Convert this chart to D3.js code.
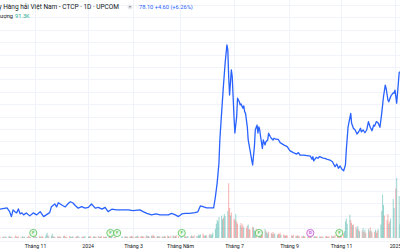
<!DOCTYPE html>
<html>
<head>
<meta charset="utf-8">
<script src="https://cdn.jsdelivr.net/npm/d3@7"></script>
<style>
  body { margin: 0; background: #fff; }
  svg { display: block; font-family: Roboto, "Noto Sans", sans-serif; }
</style>
</head>
<body>
<div id="chart"></div>
<script>
// axis: first trading day of each month shown, with its label
const monthTicks = ["2023-11-01", "2024-01-01", "2024-03-01", "2024-05-01",
  "2024-07-01", "2024-09-01", "2024-11-01", "2025-01-01"];
const monthLabels = ["Tháng 11", "2024", "Tháng 3", "Tháng Năm",
  "Tháng 7", "Tháng 9", "Tháng 11", "2025"];

// closing price (thousand VND)
const priceDates = [
  "2023-09-22","2023-09-30","2023-10-03","2023-10-05","2023-10-07","2023-10-09","2023-10-11","2023-10-13",
  "2023-10-15","2023-10-17","2023-10-19","2023-10-22","2023-10-26","2023-10-30","2023-11-03","2023-11-07",
  "2023-11-11","2023-11-14","2023-11-18","2023-11-20","2023-11-24","2023-11-26","2023-11-28","2023-12-02",
  "2023-12-06","2023-12-10","2023-12-12","2023-12-15","2023-12-17","2023-12-21","2023-12-25","2023-12-29",
  "2024-01-02","2024-01-06","2024-01-11","2024-01-15","2024-01-20","2024-01-24","2024-01-28","2024-02-02",
  "2024-02-08","2024-02-17","2024-02-24","2024-03-01","2024-03-10","2024-03-14","2024-03-19","2024-03-25",
  "2024-03-31","2024-04-05","2024-04-09","2024-04-16","2024-04-20","2024-04-25","2024-04-29","2024-05-03",
  "2024-05-07","2024-05-12","2024-05-18","2024-05-21","2024-05-24","2024-05-27","2024-05-31","2024-06-06",
  "2024-06-08","2024-06-10","2024-06-12","2024-06-14","2024-06-15","2024-06-17","2024-06-19","2024-06-21",
  "2024-06-23","2024-06-24","2024-06-25","2024-06-26","2024-06-28","2024-06-29","2024-06-30","2024-07-01",
  "2024-07-02","2024-07-04","2024-07-05","2024-07-07","2024-07-08","2024-07-09","2024-07-11","2024-07-12",
  "2024-07-13","2024-07-14","2024-07-16","2024-07-17","2024-07-19","2024-07-21","2024-07-22","2024-07-24",
  "2024-07-25","2024-07-27","2024-07-28","2024-07-29","2024-07-30","2024-07-31","2024-08-02","2024-08-03",
  "2024-08-05","2024-08-06","2024-08-08","2024-08-09","2024-08-11","2024-08-12","2024-08-14","2024-08-15",
  "2024-08-17","2024-08-20","2024-08-22","2024-08-26","2024-08-30","2024-09-02","2024-09-06","2024-09-10",
  "2024-09-12","2024-09-14","2024-09-18","2024-09-22","2024-09-26","2024-09-28","2024-09-29","2024-09-30",
  "2024-10-03","2024-10-05","2024-10-07","2024-10-11","2024-10-13","2024-10-16","2024-10-19","2024-10-22",
  "2024-10-25","2024-10-27","2024-10-29","2024-10-31","2024-11-02","2024-11-04","2024-11-06","2024-11-07",
  "2024-11-09","2024-11-12","2024-11-13","2024-11-15","2024-11-17","2024-11-19","2024-11-21","2024-11-23",
  "2024-11-24","2024-11-26","2024-11-28","2024-11-30","2024-12-02","2024-12-04","2024-12-06","2024-12-08",
  "2024-12-09","2024-12-11","2024-12-13","2024-12-15","2024-12-17","2024-12-19","2024-12-21","2024-12-22",
  "2024-12-24","2024-12-25","2024-12-27","2024-12-28","2024-12-30","2024-12-31","2025-01-01","2025-01-03",
  "2025-01-05","2025-01-06","2025-01-07"
];
const priceValues = [
  22.7, 23.2, 21.7, 19.7, 22.4, 21.7, 21.2, 22.8,
  20.8, 21.2, 20.4, 21.2, 20.0, 21.2, 20.4, 21.7,
  19.7, 20.4, 21.3, 23.7, 24.8, 23.6, 25.3, 24.4,
  23.6, 25.2, 25.7, 25.2, 24.4, 23.1, 23.7, 23.1,
  23.4, 24.8, 23.1, 23.4, 22.7, 23.4, 21.7, 22.7,
  22.4, 22.4, 22.4, 22.1, 22.4, 21.7, 21.0, 20.4,
  20.8, 20.4, 20.4, 20.4, 21.0, 20.4, 19.7, 20.8,
  21.0, 21.0, 21.3, 21.6, 24.0, 23.7, 23.2, 23.2,
  23.2, 27.7, 33.3, 41.3, 50.6, 61.5, 72.1, 81.6,
  88.9, 86.9, 76.1, 68.7, 78.8, 76.1, 68.0, 60.0,
  53.4, 60.0, 67.4, 66.0, 64.7, 65.1, 63.4, 64.3,
  62.0, 61.3, 55.9, 50.6, 46.6, 42.5, 40.5, 47.9,
  54.6, 56.6, 53.4, 55.9, 54.6, 51.9, 47.2, 50.6,
  48.6, 49.9, 50.6, 53.3, 51.9, 51.3, 50.6, 51.3,
  50.9, 50.8, 49.5, 48.6, 47.9, 46.3, 45.5, 44.9,
  45.5, 44.5, 44.5, 44.3, 44.1, 42.8, 43.9, 42.2,
  43.6, 43.2, 43.9, 43.3, 43.2, 42.8, 42.5, 41.8,
  39.8, 40.9, 39.2, 40.1, 38.8, 38.2, 40.5, 46.6,
  55.9, 61.3, 57.3, 55.3, 54.6, 53.0, 53.9, 55.3,
  53.9, 54.6, 53.5, 54.6, 58.0, 55.7, 54.3, 56.6,
  56.2, 58.0, 57.4, 55.7, 61.3, 68.0, 72.7, 71.4,
  66.7, 66.0, 68.0, 68.7, 69.6, 69.5, 70.7, 65.4,
  73.4, 77.7, 78.1
];

// daily volume (thousand shares), one value per weekday from 2023-09-22 to 2025-01-07
const volumeStart = "2023-09-22";
const volumeEnd = "2025-01-08";
const volumeK = [
  8,
  6, 9, 5, 12, 7,   10, 14, 6, 8, 5,   7, 18, 9, 6, 11,   5, 8, 12, 7, 9,
  6, 10, 15, 8, 6,  9, 7, 11, 6, 8,    12, 9, 7, 14, 10,  8, 22, 35, 18, 9,
  14, 28, 11, 9, 7, 10, 8, 12, 6, 9,   11, 16, 9, 7, 8,   13, 9, 6, 10, 12,
  7, 9, 15, 11, 8,  6, 8, 10, 9, 12,   0, 10, 8, 14, 9,   7, 11, 9, 6, 10,
  12, 8, 7, 9, 13,  10, 6, 8, 11, 7,   9, 14, 10, 8, 12,  7, 9, 6, 0, 0,
  0, 0, 0, 8, 10,   9, 12, 7, 10, 8,   11, 9, 14, 8, 10,  7, 12, 9, 16, 8,
  10, 9, 13, 7, 11, 12, 18, 9, 14, 10, 15, 11, 22, 13, 9, 10, 14, 8, 12, 9,
  11, 7, 9, 13, 10, 16, 12, 9, 0, 14,  18, 11, 9, 13, 20, 12, 0, 0, 15, 10,
  9, 13, 8, 11, 14, 10, 16, 12, 9, 18, 14, 11, 22, 17, 25, 30, 18, 14, 20, 16,
  22, 28, 18, 24, 35,
  60, 95, 120, 110, 140,   150, 125, 135, 160, 145,   180, 365, 200, 150, 170,
  130, 120, 160, 110, 95,  85, 100, 75, 90, 70,      65, 80, 90, 60, 55,
  75, 70, 50, 45, 60,      55, 40, 35, 50, 45,        60, 48, 38, 30, 42,
  35, 28, 40, 25, 30,      22, 30, 25, 35, 20,        24, 18, 15, 20, 16,
  0, 0, 18, 14, 22,        15, 12, 20, 10, 14,        12, 9, 16, 11, 8,
  10, 14, 9, 12, 18,       9, 11, 8, 13, 10,          12, 8, 10, 7, 9,
  11, 14, 9, 8, 12,        16, 10, 13, 9, 20,         18, 12, 25, 15, 22,
  30, 45, 110, 130, 95,    155, 120, 100, 85, 90,     75, 60, 80, 55, 45,
  50, 65, 40, 55, 35,      60, 45, 70, 50, 38,        42, 55, 35, 48, 60,
  90, 180, 290, 220, 150,  120, 160, 95, 110, 130,    260, 200, 0, 330, 400,
  280, 91.3
];
// u = closed up, d = closed down, same order as volumeK
const volumeDirection = ["d",
  "udduu","duudd","uddud","duudu","uddud","udduu","duudd","uuudu","uudud","dudud",
  "uddud","duudu","ddudu","udduu","duudd","dudud","uddud","ddudu","udduu","dudud",
  "ddduu","dudud","uddud","dudud","ddudd","dudud","uddud","dudud","uddud","dudud",
  "uddud","ddduu","udduu","dudud","uduuu","dduud","uduuu","uuuuu","uuduu","uddud",
  "ddudd","udddu","ddudd","duuud","ududd","uduud","duddu","udddu","ddudd","dddud",
  "dudud","ddudd","uddud","duudd","udddu","ddudd","dudud","ddudd","duuuu","uddud",
  "duudu","dudud","uddud","duddu","uuuud","ddudu","uuddu",
  "uu"].join("");

// dividend / earnings flags under the chart
const eventDates = ["2023-10-30", "2024-01-31", "2024-02-09", "2024-05-03",
  "2024-07-29", "2024-09-26", "2024-10-30"];
const eventLabels = ["F", "F", "F", "F", "F", "D", "F"];

const width = 400, height = 250;
const parse = d3.timeParse("%Y-%m-%d");

const svg = d3.select("#chart").append("svg")
  .attr("width", width)
  .attr("height", height);

// time axis compresses weekends/holidays, so pin each month tick
var x = d3.scaleTime()
  .domain(["2023-09-22"].concat(monthTicks, ["2025-01-07"]).map(parse))
  .range([0, 35, 87.7, 133, 180, 234, 289, 341, 395, 400]);

var y = d3.scaleLinear().domain([0, 107]).range([265.5, 0]);
var vy = d3.scaleLinear().domain([0, 400]).range([238, 178]);

// grid
svg.append("g")
  .selectAll("line")
  .data(d3.range(5, 110, 5))
  .join("line")
  .attr("x1", 0).attr("x2", width)
  .attr("y1", (d) => Math.round(y(d)) + 0.5)
  .attr("y2", (d) => Math.round(y(d)) + 0.5)
  .attr("stroke", "#f0f3fa");

svg.append("g")
  .selectAll("line")
  .data(monthTicks.map(parse))
  .join("line")
  .attr("x1", (d) => Math.round(x(d)) + 0.5)
  .attr("x2", (d) => Math.round(x(d)) + 0.5)
  .attr("y1", 0).attr("y2", 239)
  .attr("stroke", "#f0f3fa");

// volume
var days = d3.timeDay.range(parse(volumeStart), parse(volumeEnd))
  .filter((d) => d.getDay() > 0 && d.getDay() < 6);
var volData = days.map((d, i) => ({ date: d, v: volumeK[i], up: volumeDirection[i] === "u" }))
  .filter((d) => d.v > 0);

svg.append("g")
  .selectAll("rect")
  .data(volData)
  .join("rect")
  .attr("x", (d) => x(d.date) - 0.5)
  .attr("y", (d) => vy(d.v))
  .attr("width", 1)
  .attr("height", (d) => vy(0) - vy(d.v))
  .attr("fill", (d) => (d.up ? "#26a69a" : "#ef5350"))
  .attr("opacity", 0.45);

// price line
var line = d3.line()
  .x((d) => x(d[0]))
  .y((d) => y(d[1]))
  .curve(d3.curveLinear);

svg.append("path")
  .datum(priceDates.map((d, i) => [parse(d), priceValues[i]]))
  .attr("d", line)
  .attr("fill", "none")
  .attr("stroke", "#2962ff")
  .attr("stroke-width", 1.3)
  .attr("stroke-linejoin", "round");

// event flags
var ev = svg.append("g")
  .selectAll("g")
  .data(eventDates.map((d, i) => ({ date: parse(d), label: eventLabels[i] })))
  .join("g")
  .attr("transform", (d) => "translate(" + x(d.date) + "," + (vy(0) - 5) + ")");

ev.append("circle")
  .attr("r", 3.6)
  .attr("fill", (d) => (d.label === "D" ? "#fbeefd" : "#eef9ee"))
  .attr("stroke", (d) => (d.label === "D" ? "#c04fd0" : "#4fc04f"))
  .attr("stroke-width", 0.8);

ev.append("text")
  .attr("text-anchor", "middle")
  .attr("dy", "0.35em")
  .attr("font-size", 4.2)
  .attr("font-weight", 600)
  .attr("fill", (d) => (d.label === "D" ? "#c04fd0" : "#4fc04f"))
  .text((d) => d.label);

// time axis
var xAxis = d3.axisBottom(x)
  .tickValues(monthTicks.map(parse))
  .tickFormat((d, i) => monthLabels[i])
  .tickSize(0);

var axisG = svg.append("g")
  .attr("transform", "translate(0,241)")
  .call(xAxis);
axisG.select(".domain").remove();
axisG.selectAll("text")
  .attr("font-size", 5.2)
  .attr("fill", "#131722")
  .attr("font-family", "Roboto, sans-serif");

// legend header
svg.append("text")
  .attr("x", 119).attr("y", 8.9)
  .attr("text-anchor", "end")
  .attr("font-size", 6.5)
  .attr("fill", "#131722")
  .text("Tổng Công ty Hàng hải Việt Nam - CTCP · 1D · UPCOM");

svg.append("circle")
  .attr("cx", 130).attr("cy", 6.8).attr("r", 2.6)
  .attr("fill", "#e9ebf0");
svg.append("line")
  .attr("x1", 128.9).attr("x2", 131.1)
  .attr("y1", 6.8).attr("y2", 6.8)
  .attr("stroke", "#333").attr("stroke-width", 0.6);

svg.append("text")
  .attr("x", 139).attr("y", 8.7)
  .attr("font-size", 5.7)
  .attr("fill", "#2962ff")
  .text("78.10 +4.60 (+6.26%)");

svg.append("text")
  .attr("x", 13).attr("y", 17.7)
  .attr("text-anchor", "end")
  .attr("font-size", 5.7)
  .attr("fill", "#131722")
  .text("Khối lượng");

svg.append("text")
  .attr("x", 15).attr("y", 17.7)
  .attr("font-size", 5.7)
  .attr("fill", "#22ab94")
  .text("91.3K");
</script>
</body>
</html>
